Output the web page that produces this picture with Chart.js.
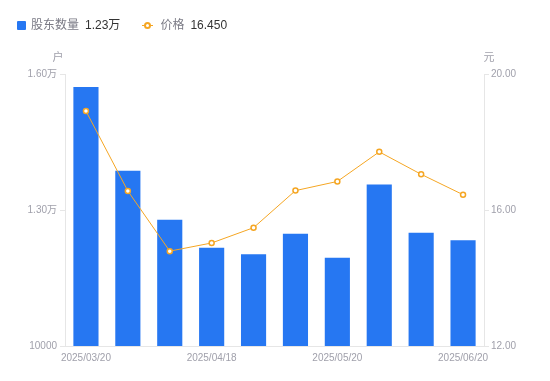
<!DOCTYPE html>
<html>
<head>
<meta charset="utf-8">
<title>股东数量与价格</title>
<script src="https://cdn.jsdelivr.net/npm/chart.js@4/dist/chart.umd.min.js"></script>
<style>
  html, body { margin: 0; padding: 0; background: #fff; }
  body { width: 550px; height: 381px; position: relative; overflow: hidden;
         font-family: "Liberation Sans", "Noto Sans CJK SC", sans-serif; }
  #legend { position: absolute; left: 17px; top: 17px; font-size: 12px; line-height: 16px;
            display: flex; align-items: center; white-space: nowrap; z-index: 2; }
  #legend .item { display: flex; align-items: center; margin-right: 22px; }
  #legend .name { color: #7a7a85; margin-right: 6px; }
  #legend .val { color: #333; }
  .sq { width: 9px; height: 9px; background: #2677F2; border-radius: 1px; margin-right: 5px; }
  .ln { position: relative; width: 11px; height: 9px; margin-right: 7px; }
  .ln:before { content: ""; position: absolute; left: 0; right: 0; top: 4px; height: 1px; background: #F5A623; }
  .ln:after { content: ""; position: absolute; left: 2px; top: 1px; width: 3px; height: 3px;
              border: 2px solid #F5A623; border-radius: 50%; background: #fff; }
  #chart { position: absolute; left: 0; top: 0; }
</style>
</head>
<body>
<div id="legend"></div>
<canvas id="chart" width="550" height="381"></canvas>
<script>
  const dates = ['2025/03/20', '2025/03/31', '2025/04/10', '2025/04/18', '2025/04/30',
                 '2025/05/09', '2025/05/20', '2025/05/30', '2025/06/10', '2025/06/20']
  const holders = [15714, 13868, 12785, 12169, 12022, 12477, 11949, 13560, 12499, 12330]
  const prices = [18.91, 16.56, 14.79, 15.03, 15.48, 16.57, 16.84, 17.71, 17.05, 16.45]

  const blue = '#2677F2'
  const orange = '#F5A623'
  const axisGray = '#e6e6e6'
  const labelGray = '#a0a0ab'

  const lastHolders = (holders[holders.length - 1] / 10000).toFixed(2) + '万'
  const lastPrice = prices[prices.length - 1].toFixed(3)
  document.getElementById('legend').innerHTML =
    '<div class="item"><div class="sq"></div><span class="name">股东数量</span><span class="val">' + lastHolders + '</span></div>' +
    '<div class="item"><div class="ln"></div><span class="name">价格</span><span class="val">' + lastPrice + '</span></div>'

  // unit labels above the two y axes
  const unitTitles = {
    id: 'unitTitles',
    afterDraw(chart) {
      const { ctx, chartArea } = chart
      ctx.save()
      ctx.font = '11px "Liberation Sans", "Noto Sans CJK SC", sans-serif'
      ctx.fillStyle = labelGray
      ctx.textBaseline = 'middle'
      ctx.textAlign = 'center'
      ctx.fillText('户', chartArea.left - 7, chartArea.top - 16)
      ctx.fillText('元', chartArea.right + 5, chartArea.top - 16)
      ctx.restore()
    }
  }

  const tickFont = { size: 10, family: '"Liberation Sans", "Noto Sans CJK SC", sans-serif' }

  new Chart('chart', {
    data: {
      labels: dates,
      datasets: [
        {
          type: 'line',
          label: '价格',
          data: prices,
          yAxisID: 'yr',
          borderColor: orange,
          borderWidth: 1,
          pointRadius: 2.5,
          pointBorderWidth: 1.5,
          pointBackgroundColor: '#fff',
          pointBorderColor: orange,
          tension: 0,
          order: 0,
        },
        {
          type: 'bar',
          label: '股东数量',
          data: holders,
          yAxisID: 'yl',
          backgroundColor: blue,
          barPercentage: 0.6,
          categoryPercentage: 1,
          order: 1,
        },
      ],
    },
    options: {
      responsive: false,
      animation: false,
      layout: { padding: { top: 74, left: 0, right: 0, bottom: 0 } },
      plugins: { legend: { display: false }, tooltip: { enabled: false } },
      scales: {
        x: {
          grid: { display: false, drawTicks: false },
          border: { display: true, color: axisGray },
          ticks: {
            autoSkip: false,
            maxRotation: 0,
            padding: 6,
            color: labelGray,
            font: tickFont,
            callback: (v, i) => (i % 3 === 0 ? dates[i] : ''),
          },
          afterFit: s => { s.height = 35 },
        },
        yl: {
          position: 'left',
          min: 10000,
          max: 16000,
          grid: { drawOnChartArea: false, color: axisGray, tickLength: 5 },
          border: { display: true, color: axisGray },
          ticks: {
            stepSize: 3000,
            padding: 3,
            color: labelGray,
            font: tickFont,
            callback: v => (v === 10000 ? '10000' : (v / 10000).toFixed(2) + '万'),
          },
          afterFit: s => { s.width = 65 },
        },
        yr: {
          position: 'right',
          min: 12,
          max: 20,
          grid: { drawOnChartArea: false, color: axisGray, tickLength: 5 },
          border: { display: true, color: axisGray },
          ticks: {
            stepSize: 4,
            padding: 2,
            color: labelGray,
            font: tickFont,
            callback: v => v.toFixed(2),
          },
          afterFit: s => { s.width = 66 },
        },
      },
    },
    plugins: [unitTitles],
  })
</script>
</body>
</html>
